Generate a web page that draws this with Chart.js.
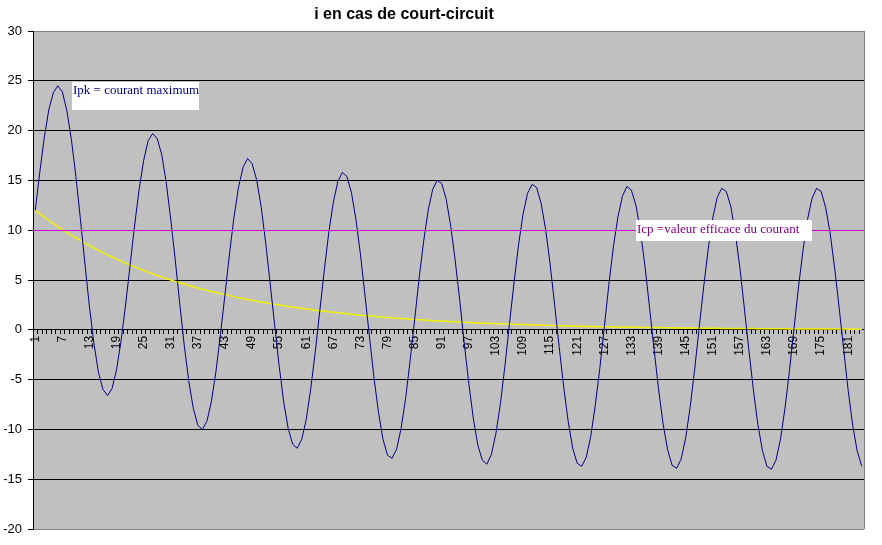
<!DOCTYPE html>
<html>
<head>
<meta charset="utf-8">
<script src="https://cdn.jsdelivr.net/npm/chart.js@4.4.1/dist/chart.umd.min.js"></script>
<style>
  html, body { margin: 0; padding: 0; background: #ffffff; }
  #wrap { width: 882px; height: 545px; }
</style>
</head>
<body>
<div id="wrap"><canvas id="c" width="882" height="545"></canvas></div>
<script>
// ---- data ----
const chartTitle = "i en cas de court-circuit";
const categories = Array.from({ length: 184 }, (_, i) => String(i + 1));
const labelEvery = 6;
const yTicks = [-20, -15, -10, -5, 0, 5, 10, 15, 20, 25, 30];

// short-circuit current i (blue)
const current = [
  12.0, 15.8, 19.3, 22.1, 23.8, 24.5, 23.9, 22.0, 19.1, 15.4, 11.1, 6.6, 2.3, -1.4, -4.3, -6.0, -6.6, -5.9, -4.0, -1.1, 2.5,
  6.5, 10.5, 14.1, 17.0, 19.0, 19.7, 19.2, 17.6, 14.8, 11.1, 7.0, 2.6, -1.6, -5.2, -7.9, -9.6, -10.0, -9.2, -7.2, -4.2, -0.5,
  3.5, 7.6, 11.3, 14.3, 16.3, 17.2, 16.7, 15.1, 12.4, 8.8, 4.7, 0.5, -3.6, -7.2, -9.9, -11.5, -11.9, -11.0, -9.0, -5.9, -2.2,
  1.9, 6.0, 9.8, 12.8, 14.9, 15.8, 15.4, 13.8, 11.1, 7.6, 3.5, -0.7, -4.8, -8.3, -11.0, -12.6, -12.9, -12.0, -9.9, -6.9, -3.1,
  1.0, 5.2, 8.9, 12.0, 14.1, 15.0, 14.7, 13.1, 10.4, 6.9, 2.9, -1.4, -5.4, -8.9, -11.6, -13.1, -13.5, -12.5, -10.4, -7.4, -3.6,
  0.6, 4.7, 8.5, 11.6, 13.7, 14.6, 14.3, 12.7, 10.1, 6.6, 2.5, -1.7, -5.7, -9.2, -11.9, -13.4, -13.7, -12.8, -10.7, -7.6, -3.9,
  0.3, 4.5, 8.3, 11.3, 13.4, 14.4, 14.0, 12.5, 9.9, 6.4, 2.3, -1.9, -5.9, -9.4, -12.0, -13.6, -13.9, -13.0, -10.9, -7.8, -4.0,
  0.2, 4.3, 8.1, 11.2, 13.3, 14.2, 13.9, 12.4, 9.7, 6.3, 2.2, -2.0, -6.0, -9.5, -12.1, -13.7, -14.0, -13.1, -11.0, -7.9, -4.1,
  0.1, 4.3, 8.0, 11.1, 13.2, 14.2, 13.9, 12.3, 9.7, 6.2, 2.2, -2.0, -6.1, -9.6, -12.2, -13.7
];

// aperiodic (DC) component (yellow)
const dcComponent = [
  12.00, 11.66, 11.32, 11.00, 10.68, 10.37, 10.07, 9.79, 9.50, 9.23,
  8.97, 8.71, 8.46, 8.21, 7.98, 7.75, 7.53, 7.31, 7.10, 6.90,
  6.70, 6.51, 6.32, 6.14, 5.96, 5.79, 5.62, 5.46, 5.31, 5.15,
  5.00, 4.86, 4.72, 4.59, 4.45, 4.33, 4.20, 4.08, 3.96, 3.85,
  3.74, 3.63, 3.53, 3.43, 3.33, 3.23, 3.14, 3.05, 2.96, 2.88,
  2.79, 2.71, 2.64, 2.56, 2.49, 2.41, 2.35, 2.28, 2.21, 2.15,
  2.09, 2.03, 1.97, 1.91, 1.86, 1.80, 1.75, 1.70, 1.65, 1.61,
  1.56, 1.51, 1.47, 1.43, 1.39, 1.35, 1.31, 1.27, 1.24, 1.20,
  1.17, 1.13, 1.10, 1.07, 1.04, 1.01, 0.98, 0.95, 0.92, 0.90,
  0.87, 0.85, 0.82, 0.80, 0.77, 0.75, 0.73, 0.71, 0.69, 0.67,
  0.65, 0.63, 0.61, 0.60, 0.58, 0.56, 0.55, 0.53, 0.52, 0.50,
  0.49, 0.47, 0.46, 0.45, 0.43, 0.42, 0.41, 0.40, 0.39, 0.37,
  0.36, 0.35, 0.34, 0.33, 0.32, 0.31, 0.31, 0.30, 0.29, 0.28,
  0.27, 0.26, 0.26, 0.25, 0.24, 0.23, 0.23, 0.22, 0.22, 0.21,
  0.20, 0.20, 0.19, 0.19, 0.18, 0.18, 0.17, 0.17, 0.16, 0.16,
  0.15, 0.15, 0.14, 0.14, 0.13, 0.13, 0.13, 0.12, 0.12, 0.12,
  0.11, 0.11, 0.11, 0.10, 0.10, 0.10, 0.10, 0.09, 0.09, 0.09,
  0.08, 0.08, 0.08, 0.08, 0.08, 0.07, 0.07, 0.07, 0.07, 0.07,
  0.06, 0.06, 0.06, 0.06
];

// RMS value of the current (magenta reference line)
const icpLevel = 10;
const ipkText = "Ipk = courant maximum";
const icpText = "Icp =valeur efficace du courant";

// ---- plugins ----
const plotBackground = {
  id: 'plotBackground',
  beforeDraw(chart) {
    const { ctx, chartArea: a } = chart;
    ctx.save();
    ctx.fillStyle = '#c0c0c0';
    ctx.fillRect(a.left, a.top, a.right - a.left, a.bottom - a.top);
    ctx.restore();
  },
  afterDraw(chart) {
    const { ctx, chartArea: a } = chart;
    ctx.save();
    ctx.strokeStyle = '#808080';
    ctx.lineWidth = 1;
    ctx.beginPath();
    ctx.moveTo(a.right + 0.5, a.top);
    ctx.lineTo(a.right + 0.5, a.bottom);
    ctx.stroke();
    ctx.restore();
  }
};

const overlays = {
  id: 'overlays',
  afterDatasetsDraw(chart) {
    const { ctx, chartArea: a, scales } = chart;
    const yPix = Math.round(scales.y.getPixelForValue(icpLevel)) + 0.5;
    ctx.save();
    // Icp horizontal line
    ctx.strokeStyle = '#cc00cc';
    ctx.lineWidth = 1;
    ctx.beginPath();
    ctx.moveTo(a.left, yPix);
    ctx.lineTo(a.right, yPix);
    ctx.stroke();

    // text boxes
    ctx.font = '13px "Liberation Serif", "Times New Roman", serif';
    ctx.textBaseline = 'alphabetic';
    ctx.textAlign = 'left';

    ctx.fillStyle = '#ffffff';
    ctx.fillRect(72, 82, 127, 28);
    ctx.fillStyle = '#000080';
    ctx.fillText(ipkText, 73, 94);

    ctx.fillStyle = '#ffffff';
    ctx.fillRect(636, 220, 176, 21);
    ctx.fillStyle = '#800080';
    ctx.fillText(icpText, 637, 233);

    ctx.restore();
  },
  afterDraw(chart) {
    const { ctx } = chart;
    ctx.save();
    ctx.font = 'bold 16px "Liberation Sans", Arial, sans-serif';
    ctx.fillStyle = '#000000';
    ctx.textAlign = 'center';
    ctx.textBaseline = 'alphabetic';
    ctx.fillText(chartTitle, 404, 19);
    ctx.restore();
  }
};

// ---- chart ----
new Chart(document.getElementById('c'), {
  type: 'line',
  data: {
    labels: categories,
    datasets: [
      {
        label: 'i',
        data: current,
        borderColor: '#000080',
        borderWidth: 1,
        pointRadius: 0,
        tension: 0,
        fill: false
      },
      {
        label: 'composante continue',
        data: dcComponent,
        borderColor: '#f2f200',
        borderWidth: 1.5,
        pointRadius: 0,
        tension: 0,
        fill: false
      }
    ]
  },
  options: {
    responsive: false,
    animation: false,
    layout: { padding: { left: 0, top: 31, right: 18, bottom: 16 } },
    plugins: {
      legend: { display: false },
      title: { display: false },
      tooltip: { enabled: false }
    },
    scales: {
      x: {
        type: 'category',
        position: { y: 0 },
        offset: true,
        grid: {
          display: true,
          drawOnChartArea: false,
          drawTicks: true,
          tickLength: 4,
          color: '#000000',
          offset: true
        },
        border: { display: true, color: '#000000' },
        ticks: {
          autoSkip: false,
          maxRotation: 90,
          minRotation: 90,
          padding: 2,
          color: '#000000',
          font: { family: '"Liberation Sans", Arial, sans-serif', size: 12 },
          callback: (val, idx) => (idx % labelEvery === 0 ? categories[idx] : '')
        }
      },
      y: {
        min: -20,
        max: 30,
        afterFit(scale) { scale.width = 33; },
        afterBuildTicks(scale) { scale.ticks = yTicks.map(v => ({ value: v })); },
        grid: {
          color: ctx => (ctx.tick && (ctx.tick.value === 30 || ctx.tick.value === -20)) ? '#808080' : '#000000',
          tickColor: '#000000',
          tickLength: 5,
          lineWidth: 1
        },
        border: { display: true, color: '#000000' },
        ticks: {
          padding: 6,
          color: '#000000',
          font: { family: '"Liberation Sans", Arial, sans-serif', size: 13 }
        }
      }
    }
  },
  plugins: [plotBackground, overlays]
});
</script>
</body>
</html>
